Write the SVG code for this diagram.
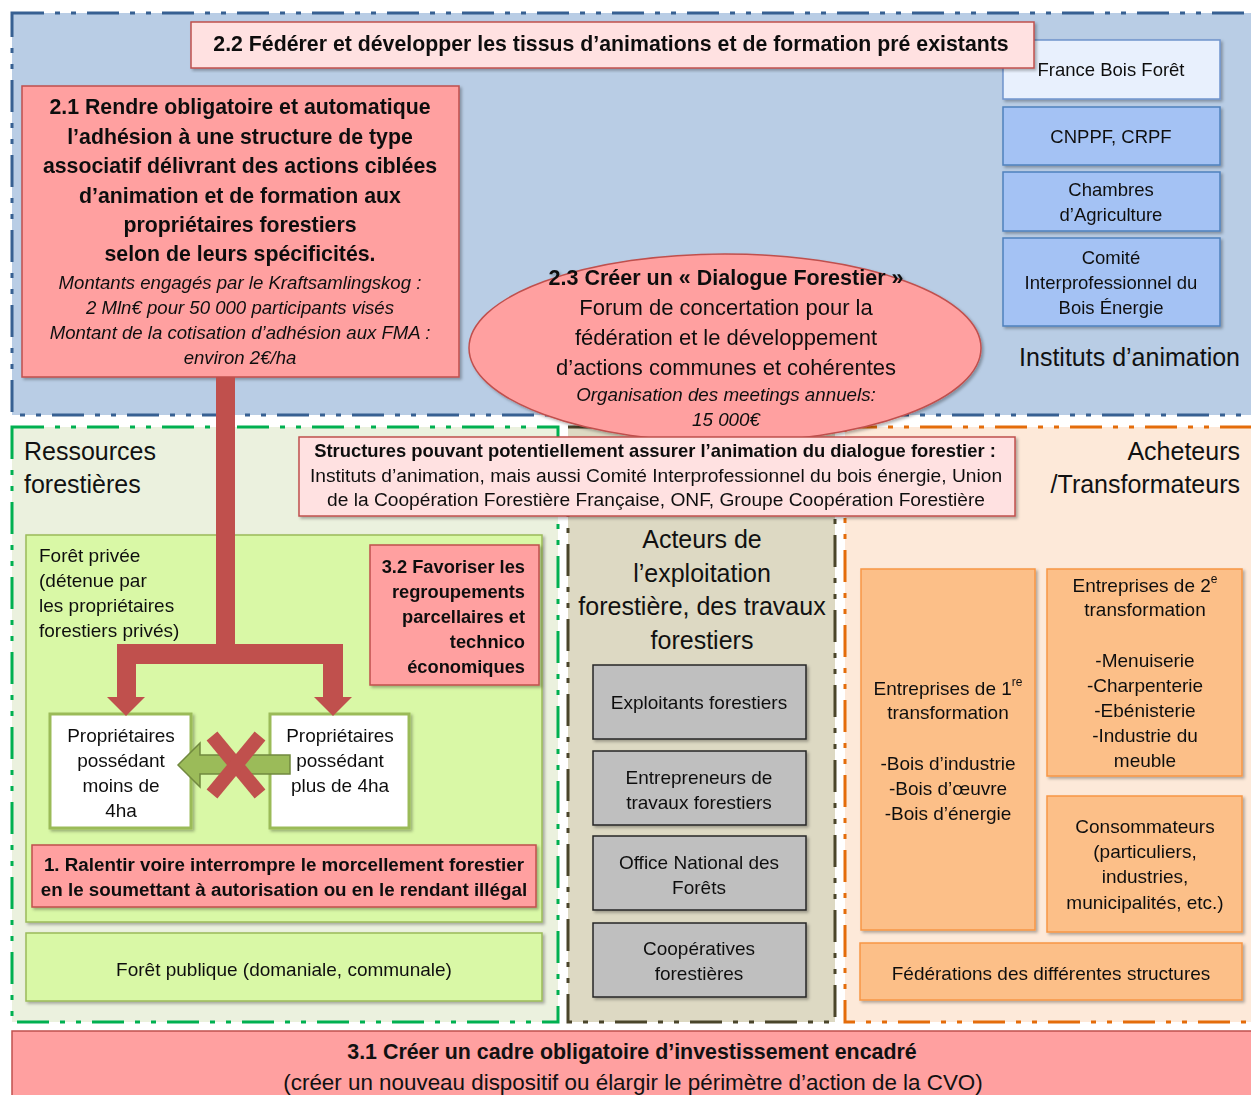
<svg xmlns="http://www.w3.org/2000/svg" width="1251" height="1095" viewBox="0 0 1251 1095">
<defs>
<filter id="sh" x="-5%" y="-5%" width="110%" height="115%">
<feDropShadow dx="2" dy="2" stdDeviation="1.5" flood-color="#000" flood-opacity="0.3"/>
</filter>
<style>
text{font-family:"Liberation Sans",Arial,sans-serif;fill:#111;dominant-baseline:central}
.c{text-anchor:middle}
.r{text-anchor:end}
.b{font-weight:bold}
.i{font-style:italic}
.zone{stroke-width:3;stroke-dasharray:32 11 5 11 5 11}
.salmon{fill:#ffa0a0;stroke:#c0504d;stroke-width:1.5}
.pink{fill:#ffe1e1;stroke:#c0504d;stroke-width:1.5}
.blue{fill:#a4c2f4;stroke:#4f81bd;stroke-width:1.5}
.lblue{fill:#e8f0fd;stroke:#6f94cc;stroke-width:1.5}
.lgreen{fill:#d9f8a6;stroke:#9bbb59;stroke-width:1.5}
.white{fill:#fff;stroke:#9bbb59;stroke-width:3}
.grey{fill:#bfbfbf;stroke:#262626;stroke-width:1.5}
.orange{fill:#fcbf88;stroke:#f79646;stroke-width:1.5}
.t17{font-size:19px}
.t18{font-size:18.5px}
.t23{font-size:25px}
</style>
</defs>
<rect width="1251" height="1095" fill="#fff"/>

<g id="zones">
<rect id="zone-blue" class="zone" x="12" y="13" width="1260" height="402" fill="#b9cde5" stroke="#376092"/>
<rect id="zone-green" class="zone" x="12" y="427" width="546" height="595" fill="#ebf1de" stroke="#00b050"/>
<rect id="zone-middle" class="zone" x="568" y="427" width="267" height="595" fill="#ddd9c3" stroke="#4a452a"/>
<rect id="zone-right" class="zone" x="845" y="427" width="420" height="595" fill="#fde9d9" stroke="#e46c0a"/>
</g>

<g id="n-fbf" filter="url(#sh)">
<rect class="lblue" x="1003" y="40" width="217" height="59"/>
<text class="c t18" x="1111" y="69">France Bois Forêt</text>
</g>

<g id="n-2-2" filter="url(#sh)">
<rect class="pink" x="191" y="22" width="843" height="46"/>
<text class="c b" x="611" y="44" font-size="21.3">2.2 Fédérer et développer les tissus d’animations et de formation pré existants</text>
</g>

<g id="n-cnppf" filter="url(#sh)">
<rect class="blue" x="1003" y="107" width="217" height="58"/>
<text class="c t18" x="1111" y="136">CNPPF, CRPF</text>
</g>
<g id="n-chambres" filter="url(#sh)">
<rect class="blue" x="1003" y="172" width="217" height="59"/>
<text class="c t18" x="1111" y="189">Chambres</text>
<text class="c t18" x="1111" y="214">d’Agriculture</text>
</g>
<g id="n-comite" filter="url(#sh)">
<rect class="blue" x="1003" y="238" width="217" height="88"/>
<text class="c t18" x="1111" y="257">Comité</text>
<text class="c t18" x="1111" y="282">Interprofessionnel du</text>
<text class="c t18" x="1111" y="307">Bois Énergie</text>
</g>
<text id="lbl-instituts" class="r t23" x="1240" y="357">Instituts d’animation</text>

<g id="n-2-3" filter="url(#sh)">
<ellipse class="salmon" cx="725" cy="348" rx="256" ry="94"/>
<text class="c b" x="726" y="278" font-size="21.5">2.3 Créer un « Dialogue Forestier »</text>
<text class="c" x="726" y="307" font-size="22">Forum de concertation pour la</text>
<text class="c" x="726" y="337" font-size="22">fédération et le développement</text>
<text class="c" x="726" y="367" font-size="22">d’actions communes et cohérentes</text>
<text class="c i" x="726" y="394" font-size="18.8">Organisation des meetings annuels:</text>
<text class="c i" x="726" y="419" font-size="18.8">15 000€</text>
</g>

<g id="n-structures" filter="url(#sh)">
<rect class="pink" x="299" y="437" width="716" height="79"/>
<text class="c b" x="655" y="450" font-size="18.4">Structures pouvant potentiellement assurer l’animation du dialogue forestier :</text>
<text class="c" x="656" y="475" font-size="19.2">Instituts d’animation, mais aussi Comité Interprofessionnel du bois énergie, Union</text>
<text class="c" x="656" y="499" font-size="19.2">de la Coopération Forestière Française, ONF, Groupe Coopération Forestière</text>
</g>

<text id="lbl-ressources" class="t23" x="24" y="451">Ressources</text>
<text class="t23" x="24" y="484">forestières</text>
<text id="lbl-acheteurs" class="r t23" x="1240" y="451">Acheteurs</text>
<text class="r t23" x="1240" y="484">/Transformateurs</text>

<g id="n-foret-privee" filter="url(#sh)">
<rect class="lgreen" x="26" y="535" width="516" height="387"/>
<text class="t17" x="39" y="555">Forêt privée</text>
<text class="t17" x="39" y="580">(détenue par</text>
<text class="t17" x="39" y="605">les propriétaires</text>
<text class="t17" x="39" y="630">forestiers privés)</text>
</g>

<g id="n-3-2" filter="url(#sh)">
<rect class="salmon" x="370" y="545" width="169" height="140"/>
<text class="r b" x="525" y="566" font-size="18.3">3.2 Favoriser les</text>
<text class="r b" x="525" y="591" font-size="18.3">regroupements</text>
<text class="r b" x="525" y="616" font-size="18.3">parcellaires et</text>
<text class="r b" x="525" y="641" font-size="18.3">technico</text>
<text class="r b" x="525" y="666" font-size="18.3">économiques</text>
</g>

<g id="n-2-1" filter="url(#sh)">
<rect class="salmon" x="22" y="86" width="437" height="291"/>
<g class="b" font-size="21.3">
<text class="c" x="240" y="107">2.1 Rendre obligatoire et automatique</text>
<text class="c" x="240" y="137">l’adhésion à une structure de type</text>
<text class="c" x="240" y="166">associatif délivrant des actions ciblées</text>
<text class="c" x="240" y="196">d’animation et de formation aux</text>
<text class="c" x="240" y="225">propriétaires forestiers</text>
<text class="c" x="240" y="254">selon de leurs spécificités.</text>
</g>
<g class="i" font-size="18.6">
<text class="c" x="240" y="282">Montants engagés par le Kraftsamlingskog :</text>
<text class="c" x="240" y="307">2 Mln€ pour 50 000 participants visés</text>
<text class="c" x="240" y="332">Montant de la cotisation d’adhésion aux FMA :</text>
<text class="c" x="240" y="357">environ 2€/ha</text>
</g>
</g>

<g id="n-moins" filter="url(#sh)">
<rect class="white" x="50" y="714" width="141" height="114"/>
<text class="c t17" x="121" y="735">Propriétaires</text>
<text class="c t17" x="121" y="760">possédant</text>
<text class="c t17" x="121" y="785">moins de</text>
<text class="c t17" x="121" y="810">4ha</text>
</g>
<g id="n-plus" filter="url(#sh)">
<rect class="white" x="270" y="714" width="139" height="114"/>
<text class="c t17" x="340" y="735">Propriétaires</text>
<text class="c t17" x="340" y="760">possédant</text>
<text class="c t17" x="340" y="785">plus de 4ha</text>
</g>

<g id="n-1" filter="url(#sh)">
<rect class="salmon" x="32" y="845" width="504" height="62"/>
<text class="c b" x="284" y="864" font-size="18.8">1. Ralentir voire interrompre le morcellement forestier</text>
<text class="c b" x="284" y="889" font-size="18.8">en le soumettant à autorisation ou en le rendant illégal</text>
</g>

<g id="n-foret-publique" filter="url(#sh)">
<rect class="lgreen" x="26" y="933" width="516" height="68"/>
<text class="c t17" x="284" y="969">Forêt publique (domaniale, communale)</text>
</g>

<g id="lbl-acteurs">
<text class="c t23" x="702" y="539">Acteurs de</text>
<text class="c t23" x="702" y="573">l’exploitation</text>
<text class="c t23" x="702" y="606">forestière, des travaux</text>
<text class="c t23" x="702" y="640">forestiers</text>
</g>

<g id="n-exploitants" filter="url(#sh)">
<rect class="grey" x="593" y="665" width="213" height="74"/>
<text class="c t17" x="699" y="702">Exploitants forestiers</text>
</g>
<g id="n-entrepreneurs" filter="url(#sh)">
<rect class="grey" x="593" y="751" width="213" height="74"/>
<text class="c t17" x="699" y="777">Entrepreneurs de</text>
<text class="c t17" x="699" y="802">travaux forestiers</text>
</g>
<g id="n-onf" filter="url(#sh)">
<rect class="grey" x="593" y="836" width="213" height="74"/>
<text class="c t17" x="699" y="862">Office National des</text>
<text class="c t17" x="699" y="887">Forêts</text>
</g>
<g id="n-coop" filter="url(#sh)">
<rect class="grey" x="593" y="923" width="213" height="74"/>
<text class="c t17" x="699" y="948">Coopératives</text>
<text class="c t17" x="699" y="973">forestières</text>
</g>

<g id="n-1re" filter="url(#sh)">
<rect class="orange" x="861" y="569" width="174" height="361"/>
<text class="c t17" x="948" y="688">Entreprises de 1<tspan font-size="12" dy="-6">re</tspan></text>
<text class="c t17" x="948" y="712">transformation</text>
<text class="c t17" x="948" y="763">-Bois d’industrie</text>
<text class="c t17" x="948" y="788">-Bois d’œuvre</text>
<text class="c t17" x="948" y="813">-Bois d’énergie</text>
</g>
<g id="n-2e" filter="url(#sh)">
<rect class="orange" x="1047" y="569" width="195" height="207"/>
<text class="c t17" x="1145" y="585">Entreprises de 2<tspan font-size="12" dy="-6">e</tspan></text>
<text class="c t17" x="1145" y="609">transformation</text>
<text class="c t17" x="1145" y="660">-Menuiserie</text>
<text class="c t17" x="1145" y="685">-Charpenterie</text>
<text class="c t17" x="1145" y="710">-Ebénisterie</text>
<text class="c t17" x="1145" y="735">-Industrie du</text>
<text class="c t17" x="1145" y="760">meuble</text>
</g>
<g id="n-consommateurs" filter="url(#sh)">
<rect class="orange" x="1047" y="796" width="195" height="136"/>
<text class="c t17" x="1145" y="826">Consommateurs</text>
<text class="c t17" x="1145" y="851">(particuliers,</text>
<text class="c t17" x="1145" y="876">industries,</text>
<text class="c t17" x="1145" y="902">municipalités, etc.)</text>
</g>
<g id="n-federations" filter="url(#sh)">
<rect class="orange" x="860" y="943" width="382" height="57"/>
<text class="c t17" x="1051" y="973">Fédérations des différentes structures</text>
</g>

<g id="n-3-1">
<rect class="salmon" x="12" y="1031" width="1250" height="80"/>
<text class="c b" x="632" y="1052" font-size="21.4">3.1 Créer un cadre obligatoire d’investissement encadré</text>
<text class="c" x="633" y="1082" font-size="22.4">(créer un nouveau dispositif ou élargir le périmètre d’action de la CVO)</text>
</g>

<g id="connectors">
<path id="c-red" d="M216,377 L235,377 L235,644 L343,644 L343,697 L352,697 L333,716 L314,697 L323,697 L323,664 L136,664 L136,697 L145,697 L126,716 L107,697 L117,697 L117,644 L216,644 Z" fill="#c0504d"/>
<path id="c-green" d="M290,755 L200,755 L200,743 L178,765 L200,787 L200,774 L290,774 Z" fill="#9bbb59" stroke="#71893f" stroke-width="1.5"/>
<g id="c-cross" stroke="#c0504d" stroke-width="14">
<line x1="212" y1="736" x2="260" y2="794"/>
<line x1="260" y1="736" x2="212" y2="794"/>
</g>
</g>
</svg>
